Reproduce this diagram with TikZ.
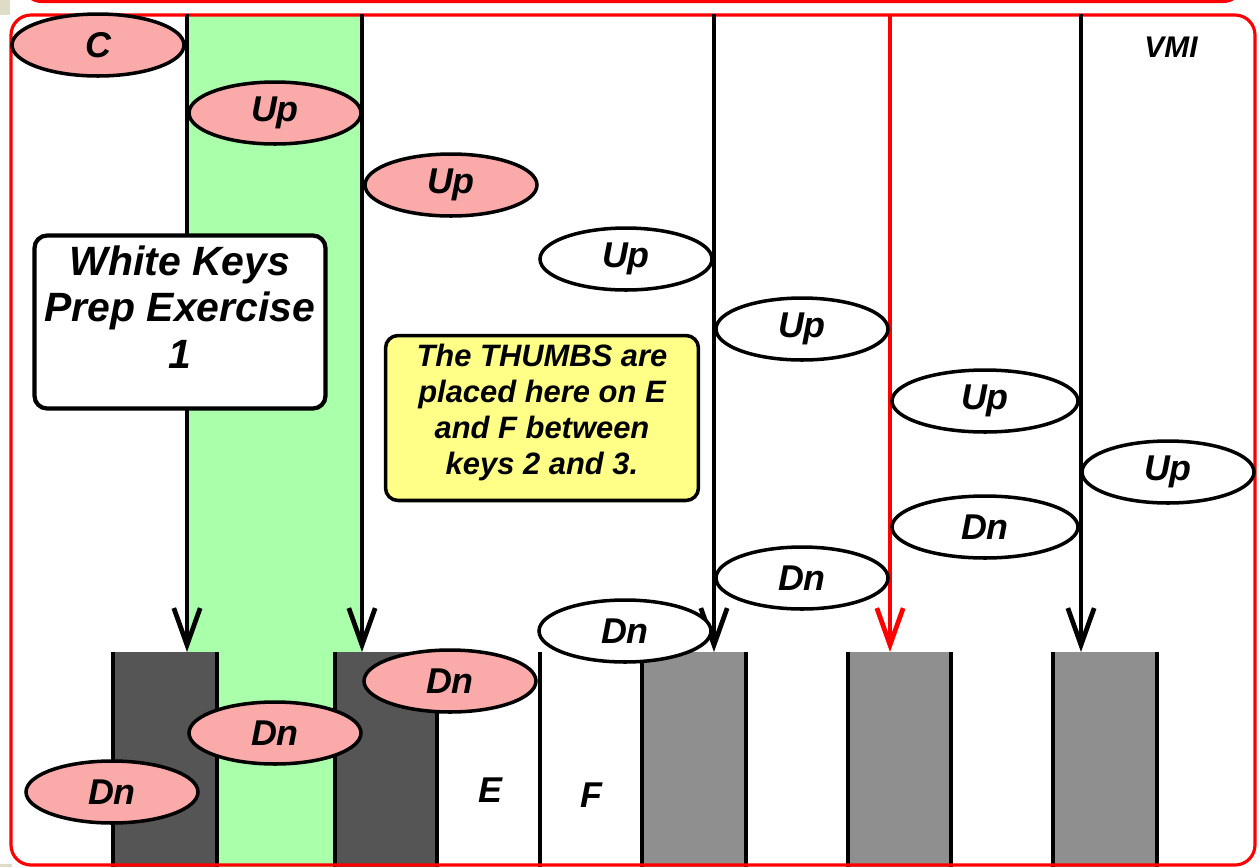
\documentclass[tikz,border=0pt]{standalone}
\usepackage{fontspec}
\setmainfont{Liberation Sans}
\usetikzlibrary{arrows.meta,shapes.geometric,positioning}
\definecolor{notepink}{HTML}{FBAAAA}
\definecolor{thumbgreen}{HTML}{AAFFAA}
\definecolor{notegold}{HTML}{FFFF88}
\definecolor{keydark}{HTML}{555555}
\definecolor{keygrey}{HTML}{8F8F8F}
\definecolor{slidetan}{HTML}{DEDCC6}
\tikzset{
  note/.style={ellipse, draw, line width=2pt, minimum width=3.44cm, minimum height=1.24cm, inner sep=0pt,
    font=\fontsize{20.4}{24}\selectfont\bfseries\itshape},
  whitenote/.style={note, fill=white},
  pinknote/.style={note, fill=notepink},
  widenote/.style={minimum width=3.72cm},
  keyline/.style={line width=2.7pt},
  keyarrow/.style={keyline, -{Straight Barb[length=21pt,width=15pt]}},
  frame/.style={red, line width=1.8pt, rounded corners=0.4cm},
  bigbold/.style={font=\fontsize{20.4}{24}\selectfont\bfseries\itshape}
}

\begin{document}
\begin{tikzpicture}[x=0.02cm, y=-0.02cm]
  \useasboundingbox (0,0) rectangle (1259,867);
  % slide corners
  \fill[slidetan] (0,0) rectangle (10,15);
  \fill[slidetan] (0,864) rectangle (12,867);

  % thumb column
  \fill[thumbgreen] (187,14) rectangle (362,867);

  % keys
  \fill[keydark] (113,652) rectangle (217,867);
  \fill[keydark] (335,652) rectangle (437,867);
  \foreach \x in {642,848,1053}
    \fill[keygrey] (\x,652) rectangle (\x+104,867);
  \foreach \x in {113,217,335,437,540,642,746,848,951,1053,1157}
    \draw[keyline] (\x,652) -- (\x,867);
  \node[bigbold] (keyE) at (490,790) {E};
  \node[bigbold] (keyF) at (591,795) {F};

  % frames
  \draw[frame] (22,-40) rectangle (1243,1.5);
  \draw[frame] (11,15) rectangle (1255,865);

  % finger lines
  \foreach \x [count=\i] in {187,362,714,1081} {
    \coordinate (src\i) at (\x,14);
    \coordinate (hit\i) at (\x,652);
    \draw[keyarrow] (src\i) -- (hit\i);
  }
  \coordinate (srcR) at (890,14);
  \coordinate (hitR) at (890,652);
  \draw[keyarrow, red] (srcR) -- (hitR);

  % notes going up
  \node[pinknote] (c) at (98,45) {C};
  \node[pinknote] (up1) at (275,113) {Up};
  \node[pinknote] (up2) at (451,185) {Up};
  \node[whitenote] (up3) at (626,259) {Up};
  \node[whitenote] (up4) at (802,329) {Up};
  \node[whitenote, widenote] (up5) at (985,401) {Up};
  \node[whitenote] (up6) at (1168,472) {Up};

  % notes coming down
  \node[whitenote, widenote] (dn5) at (985,527) {Dn};
  \node[whitenote] (dn4) at (802,578) {Dn};
  \node[whitenote] (dn3) at (625,631) {Dn};
  \node[pinknote] (dn2) at (450,681) {Dn};
  \node[pinknote] (dn1) at (275,733) {Dn};
  \node[pinknote] (dn0) at (112,792) {Dn};

  % title and hint
  \node[draw, fill=white, line width=2.4pt, rounded corners=0.25cm, minimum width=5.82cm, minimum height=3.46cm,
    align=center, font=\fontsize{23.3}{26.6}\selectfont\bfseries\itshape] (title) at (180,322)
    {White Keys\\Prep Exercise\\1\\[-9.6pt]\mbox{}};
  \node[draw, fill=notegold, line width=2pt, rounded corners=0.25cm, minimum width=6.26cm, minimum height=3.3cm,
    align=center, font=\fontsize{17.6}{20.4}\selectfont\bfseries\itshape] (hint) at (542,418)
    {The THUMBS are\\placed here on E\\and F between\\keys 2 and 3.\\[-10.2pt]\mbox{}};
  \node[font=\fontsize{17}{20}\selectfont\bfseries\itshape] (vmi) at (1171,47) {VMI};
\end{tikzpicture}
\end{document}
